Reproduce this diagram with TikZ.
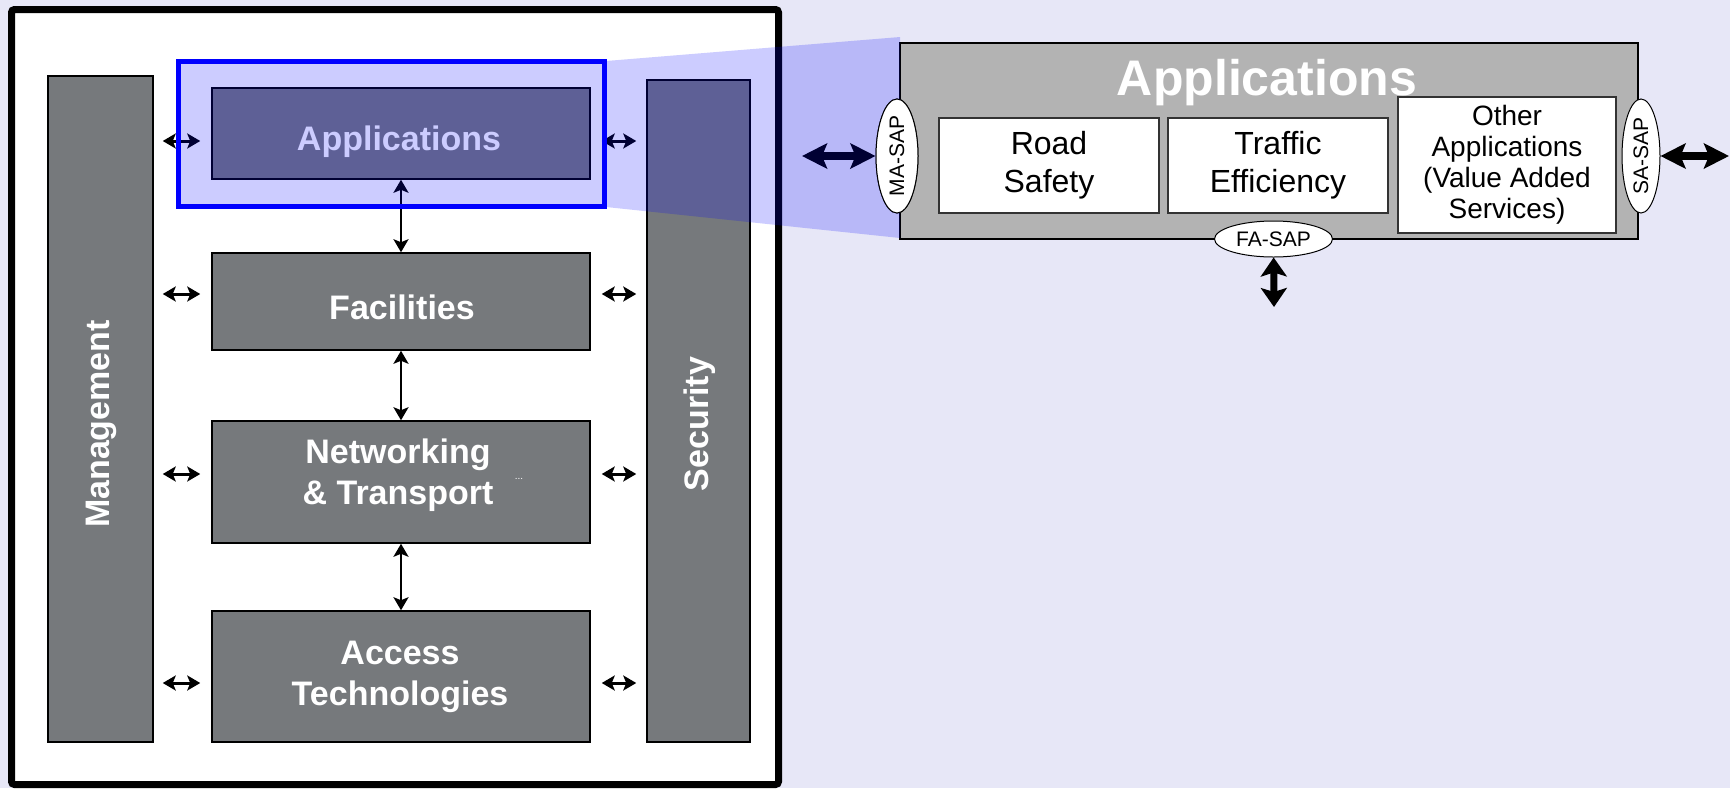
\documentclass[tikz,border=0pt]{standalone}
\usepackage{fontspec}
\setmainfont{Liberation Sans}
\usetikzlibrary{arrows.meta,shapes.geometric}
\definecolor{bg}{HTML}{E7E7F7}
\definecolor{dgray}{HTML}{76797C}
\definecolor{lgray}{HTML}{B3B3B3}
\begin{document}
\begin{tikzpicture}[x=1pt,y=-1pt,
  layer/.style={draw=black, line width=1.5pt, fill=dgray, inner sep=0pt, minimum width=378pt},
  bar/.style={draw=black, line width=1.5pt, fill=dgray, inner sep=0pt},
  ltext/.style={text=white, font=\fontsize{34}{41}\selectfont\bfseries, align=center, inner sep=0pt},
  sarrow/.style={{Stealth[length=13pt,width=15pt,inset=3pt]}-{Stealth[length=13pt,width=15pt,inset=3pt]}, line width=3pt},
  barrow/.style={{Stealth[length=25pt,width=25pt,inset=5pt]}-{Stealth[length=25pt,width=25pt,inset=5pt]}, line width=8pt},
  farrow/.style={{Stealth[length=19pt,width=26pt,inset=4pt]}-{Stealth[length=19pt,width=26pt,inset=4pt]}, line width=7pt},
  appbox/.style={draw=black!80, line width=1.5pt, fill=white, inner sep=0pt, align=center},
  sap/.style={ellipse, draw=black, line width=1pt, fill=white, inner sep=0pt, font=\fontsize{21}{21}\selectfont}
]
\useasboundingbox (0,0) rectangle (1730,788);
\fill[bg] (0,0) rectangle (1730,788);
% outer frame
\draw[line width=7pt, fill=white, rounded corners=3pt] (11.5,9.5) rectangle (778.5,784.5);

% side bars
\node[bar, minimum width=105pt, minimum height=666pt] (mgmt) at (100.5,409) {};
\node[bar, minimum width=103pt, minimum height=662pt] (sec) at (698.5,411) {};
\node[ltext, rotate=90] (mgmtlbl) at (101,424) {Management};
\node[ltext, rotate=90] (seclbl) at (700,424) {Security};

% layers
\node[layer, minimum height=91pt] (app) at (401,133.5) {};
\node[layer, minimum height=97pt] (fac) at (401,301.5) {};
\node[layer, minimum height=122pt] (net) at (401,482) {};
\node[layer, minimum height=131pt] (acc) at (401,676.5) {};
\node[ltext, anchor=base] (applbl) at (399,150) {Applications};
\node[ltext, anchor=base] (faclbl) at (402,319) {Facilities};
\node[ltext] (netlbl) at (398,475.5) {Networking\\\& Transport};
\node[ltext] (acclbl) at (400,677) {Access\\Technologies};
\node[text=white, font=\fontsize{10}{10}\selectfont] (dots) at (519,479) {...};

% arrow levels
\coordinate (lvA) at (0,141);
\coordinate (lvF) at (0,294);
\coordinate (lvN) at (0,474);
\coordinate (lvT) at (0,683);
\foreach \l/\b in {lvA/app, lvF/fac, lvN/net, lvT/acc}{
  \draw[sarrow, shorten <=9pt, shorten >=11pt] (mgmt.east |- \l) -- (\b.west |- \l);
  \draw[sarrow, shorten <=11pt, shorten >=10pt] (\b.east |- \l) -- (sec.west |- \l);
}
\draw[sarrow, line width=2.5pt] (app.south) -- (fac.north);
\draw[sarrow, line width=2.5pt] (fac.south) -- (net.north);
\draw[sarrow, line width=2.5pt] (net.south) -- (acc.north);

% right panel box and MA-SAP access point
\node[draw=black, line width=2.5pt, fill=lgray, minimum width=738pt, minimum height=196pt, inner sep=0pt] (rapp) at (1269,141) {};
\coordinate (maend) at (802,156);
\node[sap, rotate=90, minimum width=114pt, minimum height=42pt] (masap) at (897,156) {MA-SAP};
\draw[barrow] (maend) -- (masap);

% zoom hatch
\fill[blue, opacity=0.2] (178,61) -- (606,61) -- (900,37) -- (900,238) -- (606,207) -- (178,207) -- cycle;
\draw[blue, line width=5pt] (178.5,61.5) rectangle (604.5,206.5);

% MA-SAP ellipse shown above the hatch
\node[sap, rotate=90, minimum width=114pt, minimum height=42pt] (masap2) at (897,156) {MA-SAP};

\node[anchor=base, text=white, font=\fontsize{50}{60}\selectfont\bfseries, inner sep=0pt] (rtitle) at (1267,95) {Applications};
\node[appbox, minimum width=220pt, minimum height=95pt, font=\fontsize{32}{38}\selectfont] (road) at (1049,165.5) {Road\\Safety};
\node[appbox, minimum width=220pt, minimum height=95pt, font=\fontsize{32}{38}\selectfont] (traffic) at (1278,165.5) {Traffic\\Efficiency};
\node[appbox, minimum width=218pt, minimum height=136pt, font=\fontsize{28}{31}\selectfont] (other) at (1507,165) {Other\\Applications\\(Value Added\\Services)};
\node[sap, rotate=90, minimum width=114pt, minimum height=38pt] (sasap) at (1641,156) {SA-SAP};
\node[sap, minimum width=118pt, minimum height=36pt] (fasap) at (1273.5,239) {FA-SAP};
\coordinate (saend) at (1729,156);
\coordinate (faend) at (1274,307);
\draw[barrow] (sasap) -- (saend);
\draw[farrow] (fasap) -- (faend);
\end{tikzpicture}
\end{document}
